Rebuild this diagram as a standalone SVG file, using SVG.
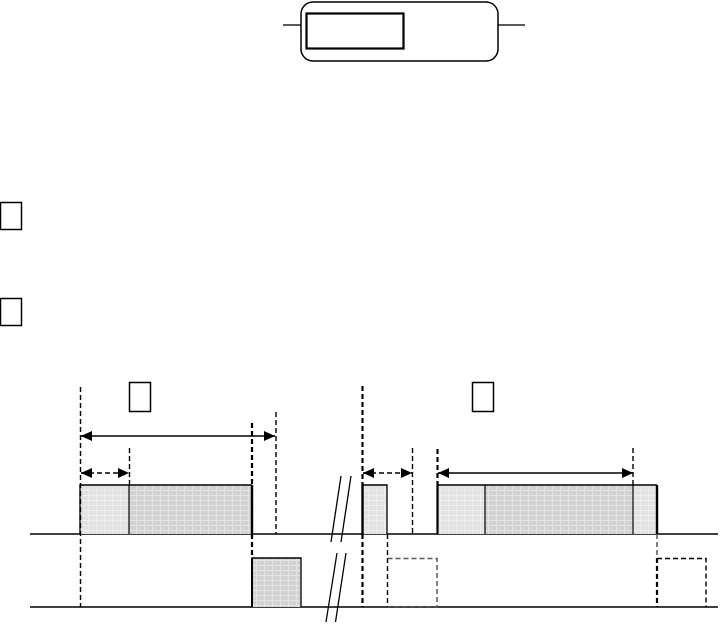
<svg xmlns="http://www.w3.org/2000/svg" width="720" height="624" viewBox="0 0 720 624">
<defs>
<pattern id="pl" width="8" height="5" patternUnits="userSpaceOnUse">
<rect width="8" height="5" fill="#e3e3e3"/>
<path d="M0 0.5H8M0.5 0V5" stroke="#eeeeee" stroke-width="1"/>
</pattern>
<pattern id="pd" width="8" height="5" patternUnits="userSpaceOnUse">
<rect width="8" height="5" fill="#d2d2d2"/>
<path d="M0 0.5H8M0.5 0V5" stroke="#e4e4e4" stroke-width="1"/>
</pattern>
<marker id="ah" viewBox="0 0 11 10" refX="11" refY="5" markerWidth="11" markerHeight="10" markerUnits="userSpaceOnUse" orient="auto-start-reverse">
<path d="M0 0L11 5L0 10Z" fill="#000"/>
</marker>
<style>
.ln{stroke:#000;stroke-width:1.3;fill:none}
.d1{stroke:#000;stroke-width:1.4;stroke-dasharray:5 3;fill:none}
.d2{stroke:#000;stroke-width:2.2;stroke-dasharray:5 3;fill:none}
.dg{stroke:#555;stroke-width:1.5;stroke-dasharray:5 3;fill:none}
.lbl{fill:#fff;stroke:#000;stroke-width:1.5}
.arr{stroke:#000;stroke-width:1.3;fill:none;marker-start:url(#ah);marker-end:url(#ah)}
.arrd{stroke:#000;stroke-width:1.3;stroke-dasharray:5 3;fill:none;marker-start:url(#ah);marker-end:url(#ah)}
</style>
</defs>
<g id="block">
<line class="ln" x1="283" y1="25" x2="301" y2="25"/>
<line class="ln" x1="498" y1="25" x2="525" y2="25"/>
<rect x="301" y="2" width="197" height="59" rx="12" fill="#fff" stroke="#000" stroke-width="1.5"/>
<rect x="306.5" y="13.5" width="97" height="35" fill="#fff" stroke="#000" stroke-width="2.2"/>
</g>
<g id="legend1"><rect class="lbl" x="0.5" y="202.5" width="21" height="27"/></g>
<g id="legend2"><rect class="lbl" x="0.5" y="298.5" width="21" height="27"/></g>
<g id="label1"><rect class="lbl" x="129.5" y="382.5" width="21" height="29"/></g>
<g id="label2"><rect class="lbl" x="472.5" y="382.5" width="21" height="29"/></g>
<g id="lanes">
<line class="ln" x1="30" y1="534" x2="718" y2="534"/>
<line class="ln" x1="30" y1="607" x2="718" y2="607"/>
</g>
<g id="frames">
<rect x="80" y="485" width="49" height="49" fill="url(#pl)"/>
<rect x="129" y="485" width="123" height="49" fill="url(#pd)"/>
<path d="M80 534V485H252" class="ln"/>
<line x1="129" y1="485" x2="129" y2="534" stroke="#000" stroke-width="1.2"/>
<line x1="252" y1="485" x2="252" y2="534" stroke="#000" stroke-width="2.4"/>
<rect x="252" y="558" width="49" height="49" fill="url(#pd)"/>
<path d="M252 607V558H301V607" class="ln"/>
<line x1="252" y1="558" x2="252" y2="607" stroke="#000" stroke-width="2"/>
<rect x="362" y="485" width="25" height="49" fill="url(#pl)"/>
<path d="M362 485H387V534" class="ln"/>
<line x1="362.5" y1="485" x2="362.5" y2="534" stroke="#000" stroke-width="2.4"/>
<rect x="437" y="485" width="48" height="49" fill="url(#pl)"/>
<rect x="485" y="485" width="148" height="49" fill="url(#pd)"/>
<rect x="633" y="485" width="24" height="49" fill="url(#pl)"/>
<path d="M437 485H657" class="ln"/>
<line x1="437.5" y1="485" x2="437.5" y2="534" stroke="#000" stroke-width="2.2"/>
<line x1="485" y1="485" x2="485" y2="534" stroke="#000" stroke-width="1.2"/>
<line x1="633" y1="485" x2="633" y2="534" stroke="#000" stroke-width="1.2"/>
<line x1="657" y1="485" x2="657" y2="534" stroke="#000" stroke-width="2.4"/>
<line class="d1" x1="387.5" y1="558" x2="387.5" y2="607"/>
<path d="M387.5 558.5H437V607H387.5" class="dg"/>
<path d="M657 558.5H706V607" class="d1"/>
</g>
<g id="connectors">
<line class="d1" x1="80.5" y1="387" x2="80.5" y2="607"/>
<line class="d1" x1="129.5" y1="448" x2="129.5" y2="485"/>
<line class="d2" x1="252" y1="423" x2="252" y2="485"/>
<line class="d2" x1="252" y1="534" x2="252" y2="558"/>
<line class="d1" x1="276" y1="412" x2="276" y2="534"/>
<line class="d2" x1="362.5" y1="386" x2="362.5" y2="485"/>
<line class="d2" x1="362.5" y1="534" x2="362.5" y2="607"/>
<line class="d1" x1="387.5" y1="534" x2="387.5" y2="558"/>
<line class="d1" x1="412.5" y1="448" x2="412.5" y2="534"/>
<line class="d2" x1="437.5" y1="449" x2="437.5" y2="485"/>
<line class="d1" x1="633" y1="448" x2="633" y2="485"/>
<line class="dg" x1="657" y1="534" x2="657" y2="558"/>
<line class="d2" x1="657" y1="558" x2="657" y2="607"/>
<line class="arr" x1="81" y1="436" x2="275" y2="436"/>
<line class="arrd" x1="81" y1="473" x2="129" y2="473"/>
<line class="arrd" x1="363" y1="473" x2="412" y2="473"/>
<line class="arr" x1="438" y1="473" x2="633" y2="473"/>
</g>
<g id="break">
<line class="ln" x1="341" y1="476" x2="331" y2="542"/>
<line class="ln" x1="351" y1="476" x2="341" y2="542"/>
<line class="ln" x1="337" y1="553" x2="326" y2="622"/>
<line class="ln" x1="346" y1="553" x2="335.5" y2="622"/>
</g>
</svg>
